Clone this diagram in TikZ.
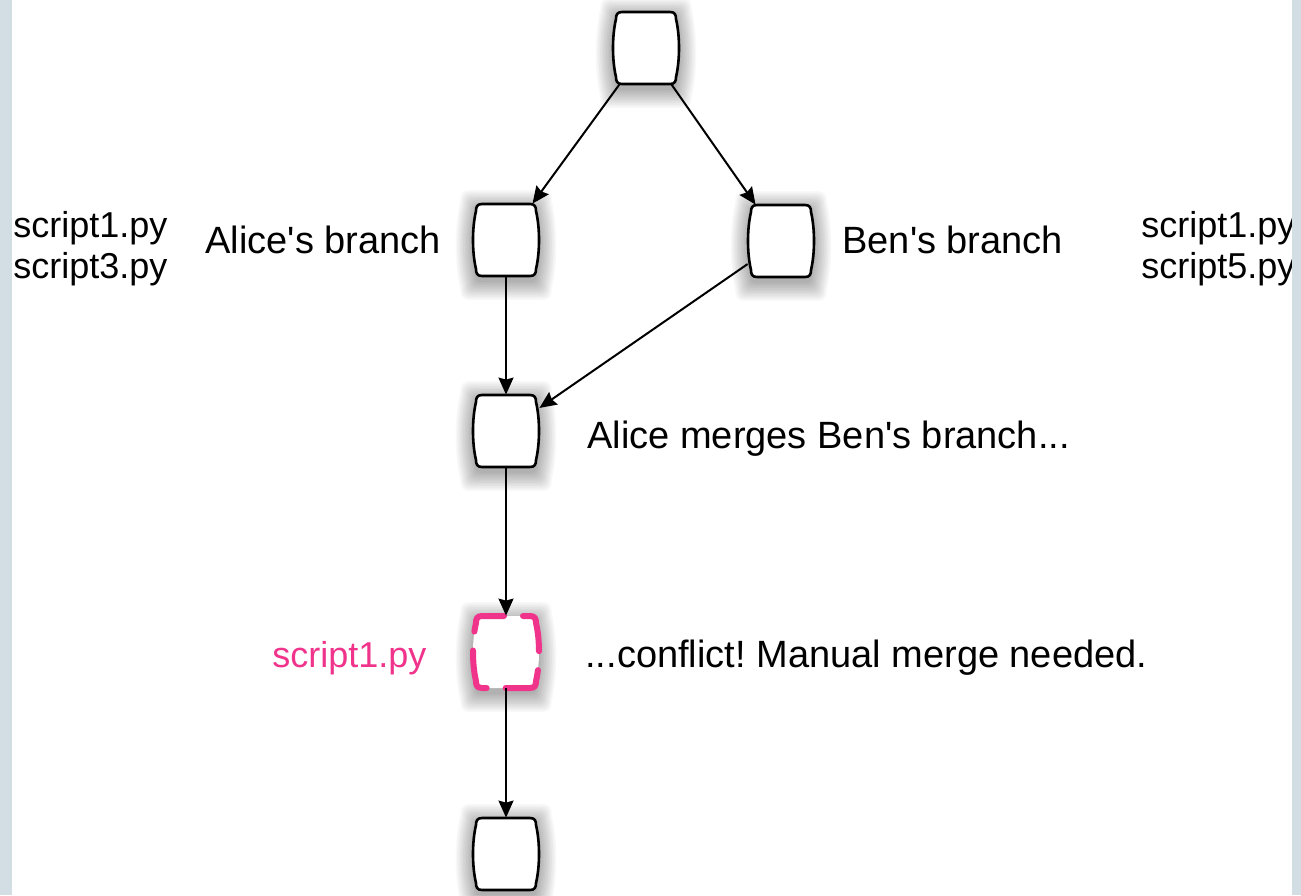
\documentclass[tikz,border=0pt]{standalone}
\usepackage{fontspec}
\setmainfont{Liberation Sans}[Ligatures=TeXOff]
\frenchspacing
\usetikzlibrary{arrows.meta}
\definecolor{stripcol}{RGB}{211,222,228}
\definecolor{hotpink}{RGB}{240,52,140}
\tikzset{
  commit/.style={minimum width=33pt, minimum height=36pt, inner sep=0pt},
  conn/.style={line width=1pt, -{Stealth[length=8.5pt,width=7.5pt,inset=1pt]}},
  lbl/.style={font=\fontsize{19}{22}\selectfont, inner sep=0pt, anchor=base west},
  filelbl/.style={font=\fontsize{18}{21}\selectfont, inner sep=0pt, anchor=base west},
  pics/barrel/.style={code={
    \foreach \k in {0,...,11}{
      \fill[black,opacity=0.028,yshift=-2.5pt,scale=1.03+0.045*\k]
        (-24,-36) -- (24,-36) .. controls (29,-36) and (30,-33) .. (30,-29)
        .. controls (34,-12) and (34,12) .. (30,29)
        .. controls (30,33) and (29,36) .. (24,36) -- (-24,36)
        .. controls (-29,36) and (-30,33) .. (-30,29)
        .. controls (-34,12) and (-34,-12) .. (-30,-29)
        .. controls (-30,-33) and (-29,-36) .. (-24,-36) -- cycle;
    }
    \path[fill=white,#1]
        (-24,-36) -- (24,-36) .. controls (29,-36) and (30,-33) .. (30,-29)
        .. controls (34,-12) and (34,12) .. (30,29)
        .. controls (30,33) and (29,36) .. (24,36) -- (-24,36)
        .. controls (-29,36) and (-30,33) .. (-30,29)
        .. controls (-34,12) and (-34,-12) .. (-30,-29)
        .. controls (-30,-33) and (-29,-36) .. (-24,-36) -- cycle;
  }},
  plain/.style={draw=black, line width=1.3pt},
  conflictline/.style={draw=hotpink, line width=3pt, line cap=round, dash pattern=on 23pt off 9.5pt, dash phase=12pt},
}
\begin{document}
\begin{tikzpicture}[x=0.5pt,y=-0.5pt]
\useasboundingbox (0,0) rectangle (1301,895);
\fill[white] (0,0) rectangle (1301,895);

\node[commit] (top) at (646,48) {};
\node[commit] (alice) at (506,240) {};
\node[commit] (ben) at (781,241) {};
\node[commit] (merge) at (506,431) {};
\node[commit] (conf) at (506,652) {};
\node[commit] (bottom) at (506,854) {};

\pic at (top) {barrel=plain};
\pic at (alice) {barrel=plain};
\pic at (ben) {barrel=plain};
\pic at (merge) {barrel=plain};
\pic at (conf) {barrel=conflictline};
\pic at (bottom) {barrel=plain};

\draw[conn] (top) -- (alice);
\draw[conn] (top) -- (ben);
\draw[conn] (alice) -- (merge);
\draw[conn] (ben) -- (merge);
\draw[conn] (merge) -- (conf);
\draw[conn] (conf) -- (bottom);

\node[filelbl] (la1) at (13,237) {script1.py};
\node[filelbl] (la2) at (13,278) {script3.py};
\node[lbl] (lalice) at (205,253) {Alice's branch};
\node[lbl] (lben) at (842,253) {Ben's branch};
\node[filelbl] (lb1) at (1141,237) {script1.py};
\node[filelbl] (lb2) at (1141,278) {script5.py};
\node[lbl] (lmerge) at (587,448) {Alice merges Ben's branch...};
\node[filelbl, text=hotpink] (lconf) at (272,667) {script1.py};
\node[lbl] (lconflict) at (585,667) {...conflict! Manual merge needed.};

\fill[stripcol] (0,0) rectangle (12,895);
\fill[stripcol] (1292,0) rectangle (1301,895);
\end{tikzpicture}
\end{document}
